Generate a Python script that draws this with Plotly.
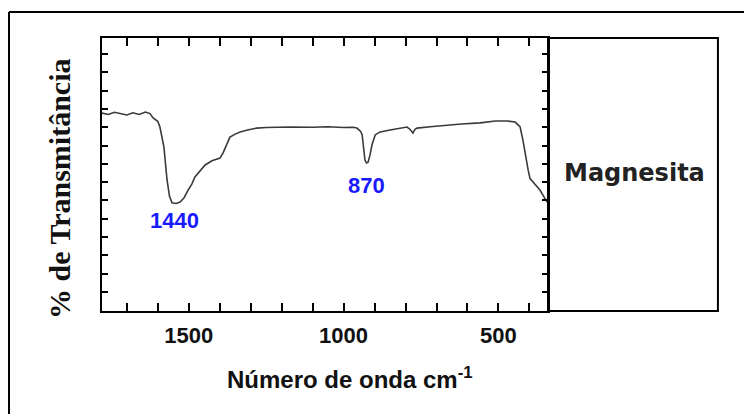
import plotly.graph_objects as go

# Spectrum (wavenumber cm-1, relative transmittance)
wavenumber = [1780, 1760, 1740, 1720, 1700, 1680, 1660, 1640, 1625, 1615, 1600, 1593, 1580, 1570,
              1562, 1554, 1540, 1528, 1515, 1502, 1490, 1480, 1465, 1447, 1425, 1410, 1399, 1389,
              1378, 1367, 1350, 1334, 1310, 1280, 1250, 1215, 1173, 1100, 1050, 1000, 970, 957,
              945, 940, 935, 931, 926, 921, 915, 908, 898, 882, 850, 820, 795, 785, 776, 770, 763,
              720, 666, 620, 559, 510, 472, 446, 430, 421, 404, 398, 366, 343]
transmittance = [72.5, 72.0, 72.8, 72.2, 71.8, 72.6, 72.0, 72.9, 72.3, 70.7, 69.5, 67.4, 60.0, 48.0,
                 42.0, 39.6, 39.4, 39.9, 41.5, 44.3, 46.5, 49.1, 51.0, 53.5, 55.0, 55.6, 56.0, 57.9,
                 61.0, 63.7, 64.8, 65.6, 66.3, 67.0, 67.2, 67.4, 67.4, 67.3, 67.5, 67.2, 67.3, 67.0,
                 65.8, 64.5, 59.0, 55.3, 54.2, 54.5, 57.0, 61.0, 64.5, 65.6, 66.3, 66.8, 67.4, 66.5,
                 65.2, 66.5, 67.0, 67.5, 68.1, 68.5, 68.9, 69.6, 69.6, 69.2, 67.4, 62.6, 51.6, 48.5,
                 44.3, 39.9]

# Band labels
band_labels = ["1440", "870"]
band_positions = [1554, 931]
band_values = [39.6, 54.2]

# Axis ticks
x_tickvals = [1500, 1000, 500]
x_ticktext = ["1500", "1000", "500"]
x_minor_tickvals = [1700, 1600, 1400, 1300, 1200, 1100, 900, 800, 700, 600, 400]
y_tickvals = [7, 13.7, 20.4, 27.1, 33.8, 40.5, 47.2, 53.9, 60.6, 67.3, 74, 80.7, 87.4, 94.1]

fig = go.Figure()
fig.add_trace(go.Scatter(x=wavenumber, y=transmittance, mode="lines",
                         line=dict(color="#3a3a3a", width=1.6), showlegend=False,
                         hoverinfo="skip"))

for lab, xv, yv, ys in zip(band_labels, band_positions, band_values, [-3, -8]):
    fig.add_annotation(x=xv, y=yv, text=f"<b>{lab}</b>", showarrow=False,
                       yshift=ys, xshift=2, yanchor="top",
                       font=dict(family="Liberation Sans", size=22, color="#1a1aff"))

fig.update_xaxes(range=[1780, 340], tickvals=x_tickvals, ticktext=x_ticktext,
                 ticks="inside", ticklen=8, tickwidth=1.5, tickcolor="black",
                 minor=dict(tickvals=x_minor_tickvals, ticks="inside", ticklen=8,
                            tickwidth=1.5, tickcolor="black", showgrid=False),
                 showline=True, linewidth=2, linecolor="black", mirror="ticks",
                 showgrid=False, zeroline=False, ticklabelstandoff=4,
                 tickfont=dict(family="Liberation Sans", size=22, color="#111", weight="bold"))
fig.update_yaxes(range=[0, 100], tickvals=y_tickvals, showticklabels=False,
                 ticks="inside", ticklen=6, tickwidth=1.5, tickcolor="black",
                 showline=True, linewidth=2, linecolor="black", mirror="ticks",
                 showgrid=False, zeroline=False)

# Axis titles
fig.add_annotation(xref="paper", yref="paper", x=0.556, y=-0.245,
                   text="<b>Número de onda cm<sup>-1</sup></b>", showarrow=False,
                   xanchor="center", yanchor="middle",
                   font=dict(family="Liberation Sans", size=24, color="#111"))
fig.add_annotation(xref="paper", yref="paper", x=-0.094, y=0.447,
                   text="<b>% de Transmitância</b>", showarrow=False, textangle=-90,
                   xanchor="center", yanchor="middle",
                   font=dict(family="Liberation Serif", size=30, color="#111"))

# Side box with sample name
fig.add_shape(type="rect", xref="paper", yref="paper", x0=1.0, x1=1.381, y0=0, y1=1,
              line=dict(color="black", width=2))
fig.add_annotation(xref="paper", yref="paper", x=1.195, y=0.505, text="<b>Magnesita</b>",
                   showarrow=False, xanchor="center", yanchor="middle",
                   font=dict(family="DejaVu Sans", size=24, color="#222"))

# Outer frame (left and top)
fig.add_shape(type="line", xref="paper", yref="paper", x0=-0.2085, x1=-0.2085, y0=1.095, y1=-0.4,
              line=dict(color="black", width=2))
fig.add_shape(type="line", xref="paper", yref="paper", x0=-0.2085, x1=1.45, y0=1.095, y1=1.095,
              line=dict(color="black", width=2))

fig.update_layout(width=744, height=414, margin=dict(l=102, r=196, t=38, b=103),
                  paper_bgcolor="white", plot_bgcolor="white")

fig.write_html("out.html")
